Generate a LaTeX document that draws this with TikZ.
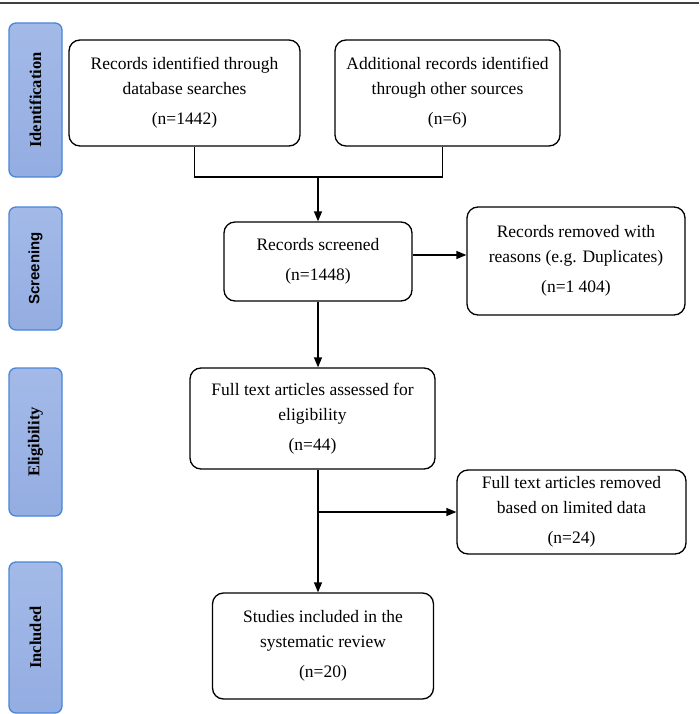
\documentclass[tikz,border=0pt]{standalone}
\usepackage{fontspec}
\setmainfont{Liberation Serif}
\newfontfamily\phasesans{Liberation Sans}
\usetikzlibrary{arrows.meta}
\definecolor{phasefill}{RGB}{163,186,232}
\definecolor{phasefilldark}{RGB}{148,173,226}
\definecolor{phaseline}{RGB}{74,134,216}
\begin{document}
\begin{tikzpicture}[x=1pt,y=-1pt,line cap=butt,line join=miter,>={Triangle[length=10pt,width=8pt]},
 font=\fontsize{17.5}{25}\selectfont]
 \tikzset{box/.style={draw,line width=1.3pt,rounded corners=11pt,align=center,inner sep=2pt},
 phase/.style={draw=phaseline,line width=1.3pt,rounded corners=7pt,top color=phasefill,bottom color=phasefilldark,
 rotate=90,minimum height=53pt,inner sep=0pt,font=\fontsize{16.5}{18}\selectfont\bfseries},
 link/.style={line width=1.3pt}
 }
 \useasboundingbox (0,0) rectangle (699,714);
 \draw[line width=1.3pt,black!75] (0,3)--(699,3);
 \node[phase,minimum width=154pt] (phid) at (35.5,100) {Identification};
 \node[phase,minimum width=123pt,font=\fontsize{15}{17}\selectfont\bfseries\phasesans] (phscr) at (35.5,268.5) {Screening};
 \node[phase,minimum width=148pt] (phel) at (35.5,442) {Eligibility};
 \node[phase,minimum width=151pt] (phinc) at (35.5,637.5) {Included};
 \node[box,minimum width=231pt,minimum height=106pt] (ident) at (184.5,93)
 {Records identified through\\database searches\\[5pt](n=1442)};
 \node[box,minimum width=225pt,minimum height=106pt] (addit) at (447.5,93)
 {Additional records identified\\through other sources\\[5pt](n=6)};
 \node[box,minimum width=188pt,minimum height=79pt] (screen) at (318,261.5)
 {Records screened\\[5pt](n=1448)};
 \node[box,minimum width=218pt,minimum height=108pt] (removed) at (576,261)
 {Records removed with\\reasons (e.g. Duplicates)\\[5pt](n=1 404)};
 \node[box,minimum width=245pt,minimum height=101pt] (fulltext) at (312.5,418.5)
 {Full text articles assessed for\\eligibility\\[5pt](n=44)};
 \node[box,minimum width=229pt,minimum height=84pt] (excluded) at (571.5,512)
 {Full text articles removed\\based on limited data\\[5pt](n=24)};
 \node[box,minimum width=221pt,minimum height=106pt] (included) at (323,646)
 {Studies included in the\\systematic review\\[5pt](n=20)};
 \coordinate (merge) at (318,177);
 \draw[link] ([xshift=10pt]ident.south) |- (merge) -| ([xshift=-5pt]addit.south);
 \draw[link,->] (merge) -- (screen.north);
 \draw[link,->] ([yshift=6.5pt]screen.east) -- ([yshift=6.5pt]screen.east -| removed.west);
 \draw[link,->] (screen.south) -- (screen.south |- fulltext.north);
 \draw[link,->] (screen.south |- fulltext.south) -- (screen.south |- included.north);
 \draw[link,->] (screen.south |- excluded.west) -- (excluded.west);
\end{tikzpicture}
\end{document}
